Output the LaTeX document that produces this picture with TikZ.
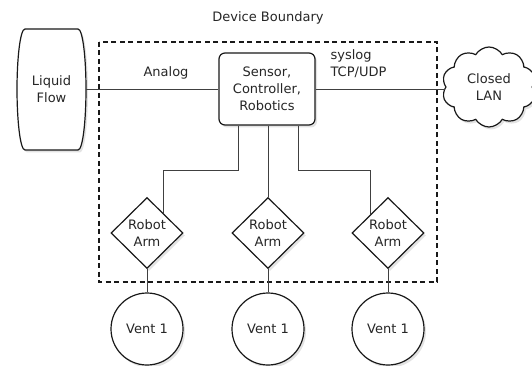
\documentclass[tikz,border=0pt]{standalone}
\usepackage{fontspec}
\setmainfont{DejaVu Sans}
\usetikzlibrary{shapes.geometric,shapes.symbols,shadows,calc}
\tikzset{
  lbl/.style={font=\fontsize{13}{16.8}\selectfont, text=black!85, align=center},
  shp/.style={draw=black!90, line width=1.2pt, fill=white,
    drop shadow={opacity=0.22, shadow xshift=2pt, shadow yshift=-2.5pt}},
  conn/.style={draw=black!75, line width=0.9pt},
  armbox/.style={shp, lbl, diamond, minimum width=72pt, minimum height=71pt, inner sep=0pt},
  ventbox/.style={shp, lbl, circle, minimum size=72pt, inner sep=0pt},
}
\begin{document}
\begin{tikzpicture}[x=1pt,y=-1pt]
\useasboundingbox (0,0) rectangle (532,366);
% device boundary
\draw[black!90, line width=1.2pt, dash pattern=on 5pt off 3.5pt] (99,42) rectangle (437,282);
\node[lbl] (db) at (268,18) {Device Boundary};
% liquid flow
\path[shp] (25,29) -- (78,29) .. controls (83,29) and (86,60) .. (86,89) .. controls (86,119) and (83,150) .. (78,150) -- (25,150) .. controls (20,150) and (17,119) .. (17,89) .. controls (17,60) and (20,29) .. (25,29) -- cycle;
\node[lbl, minimum width=69pt, minimum height=121pt, inner sep=0pt] (lf) at (51.5,89) {Liquid\\Flow};
% sensor
\node[shp, lbl, rectangle, rounded corners=6pt, minimum width=96pt, minimum height=72pt, inner sep=0pt] (sensor) at (267,89) {Sensor,\\Controller,\\Robotics};
% cloud
\node[shp, lbl, cloud, cloud puffs=10, cloud puff arc=120, aspect=1.2, minimum width=94pt, minimum height=80pt, inner sep=0pt] (lan) at (489,87) {Closed\\LAN};
% robot arms
\node[armbox] (ra1) at (147,233) {Robot\\Arm};
\node[armbox] (ra2) at (268,233) {Robot\\Arm};
\node[armbox] (ra3) at (388,233) {Robot\\Arm};
% vents
\node[ventbox] (v1) at (147,329) {Vent 1};
\node[ventbox] (v2) at (268,329) {Vent 1};
\node[ventbox] (v3) at (388,329) {Vent 1};
% labels
\node[lbl] (analog) at (166,73) {Analog};
\node[lbl, align=left, anchor=west] (sys) at (327,64) {syslog\\TCP/UDP};
% connectors
\draw[conn] (lf.east) -- (sensor.west);
\draw[conn] (sensor.east) -- (sensor.east -| lan.west);
\coordinate (j1) at ($(ra1.north)!0.45!(ra1.east)$);
\coordinate (j3) at ($(ra3.north)!0.47!(ra3.west)$);
\draw[conn] ([xshift=-29pt]sensor.south) -- ++(0,45) -| (j1);
\draw[conn] (sensor.south -| ra2.north) -- (ra2.north);
\draw[conn] ([xshift=31pt]sensor.south) -- ++(0,45) -| (j3);
\draw[conn] (ra1.south) -- (v1.north);
\draw[conn] (ra2.south) -- (v2.north);
\draw[conn] (ra3.south) -- (v3.north);
\end{tikzpicture}
\end{document}
